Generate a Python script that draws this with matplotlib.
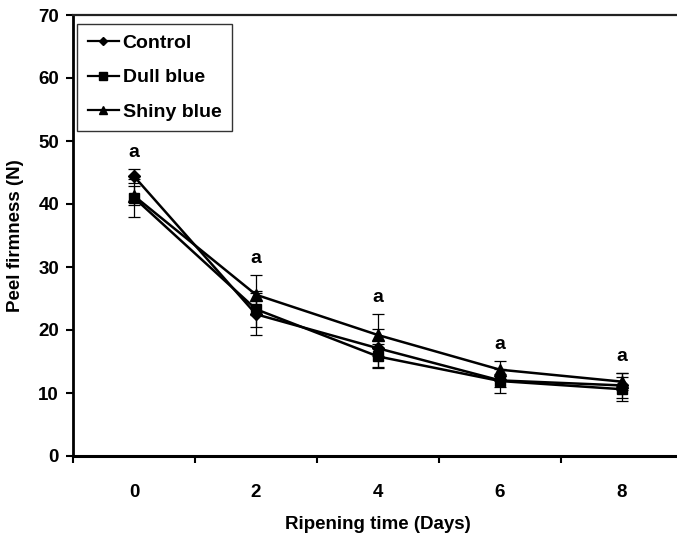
import matplotlib
matplotlib.use("Agg")
import matplotlib.pyplot as plt
from matplotlib.ticker import FixedLocator
from matplotlib.lines import Line2D
import numpy as np

days = ["0", "2", "4", "6", "8"]
control = [44.4, 22.5, 17.1, 12.0, 11.2]
control_err = [1.1, 3.3, 3.0, 1.0, 2.0]
dull_blue = [41.0, 23.3, 15.8, 11.9, 10.6]
dull_blue_err = [3.0, 2.9, 1.9, 1.9, 1.9]
shiny_blue = [41.3, 25.6, 19.2, 13.7, 11.8]
shiny_blue_err = [1.5, 3.2, 3.4, 1.4, 1.4]
letters = ["a", "a", "a", "a", "a"]

plt.rcParams["font.family"] = ["Liberation Sans", "DejaVu Sans"]
plt.rcParams["font.weight"] = "bold"
FS = 13.5

W, H = 677, 535
fig = plt.figure(figsize=(W / 100, H / 100), dpi=100)
ax = fig.add_axes([73 / W, (H - 456) / H, 610 / W, 441 / H])

x = np.arange(len(days))
series = [
    ("Control", control, control_err, "D", 6.5),
    ("Dull blue", dull_blue, dull_blue_err, "s", 7.5),
    ("Shiny blue", shiny_blue, shiny_blue_err, "^", 8.5),
]
handles = []
for name, vals, errs, mk, ms in series:
    ax.errorbar(x, vals, yerr=errs, color="black", lw=1.8, marker=mk, ms=ms,
                elinewidth=0.9, capsize=4, capthick=0.9)
    handles.append(Line2D([], [], color="black", lw=1.6, marker=mk,
                          ms=ms * 0.7, label=name))

tops = np.max([np.array(control) + np.array(control_err),
               np.array(dull_blue) + np.array(dull_blue_err),
               np.array(shiny_blue) + np.array(shiny_blue_err)], axis=0)
for xi, t, lab in zip(x, tops, letters):
    ax.text(xi, t + 2.6, lab, ha="center", va="center", fontsize=FS + 0.5,
            fontweight="bold")

ax.set_xlim(-0.5, len(days) - 0.5)
ax.set_ylim(0, 70)
ax.set_yticks(range(0, 71, 10))
ax.xaxis.set_major_locator(FixedLocator(np.arange(-0.5, len(days), 1.0)))
ax.xaxis.set_minor_locator(FixedLocator(x))
ax.set_xticklabels([])
ax.set_xticklabels(days, minor=True)
ax.tick_params(axis="x", which="major", direction="out", length=5, width=1.5)
ax.tick_params(axis="x", which="minor", length=0, pad=20, labelsize=FS)
ax.tick_params(axis="y", direction="out", length=5, width=1.5, labelsize=FS, pad=5)
for lab in ax.get_xticklabels(minor=True) + ax.get_yticklabels():
    lab.set_fontweight("bold")

ax.spines["left"].set_linewidth(2)
ax.spines["bottom"].set_linewidth(2.2)
ax.spines["top"].set_linewidth(1.6)
ax.spines["top"].set_color("#222222")
ax.spines["right"].set_visible(False)

ax.set_xlabel("Ripening time (Days)", fontsize=FS, fontweight="bold", labelpad=11)
ax.set_ylabel("Peel firmness (N)", fontsize=FS, fontweight="bold", labelpad=10)

leg = ax.legend(handles=handles, loc="upper left",
                bbox_to_anchor=(4 / 610, 1 - 9 / 441),
                frameon=True, fancybox=False, edgecolor="black",
                fontsize=FS + 0.5, handlelength=1.6, handletextpad=0.2,
                labelspacing=0.85, borderpad=0.55, borderaxespad=0)
leg.get_frame().set_linewidth(1.0)
for t in leg.get_texts():
    t.set_fontweight("bold")

fig.savefig("out.png", dpi=100)
